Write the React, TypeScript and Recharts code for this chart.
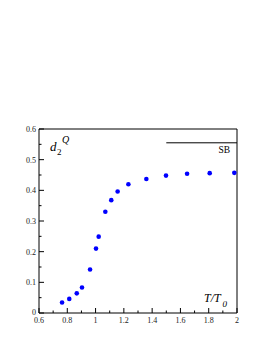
import { ScatterChart, Scatter, XAxis, YAxis, ReferenceLine } from 'recharts';

const tempRatio = [0.763, 0.814, 0.867, 0.904, 0.961, 1.003, 1.022, 1.069, 1.111, 1.156, 1.232, 1.359, 1.498, 1.647, 1.807, 1.981];
const d2Values = [0.034, 0.046, 0.064, 0.083, 0.142, 0.21, 0.249, 0.33, 0.368, 0.396, 0.42, 0.437, 0.448, 0.454, 0.456, 0.457];
const sbLimit = 0.555;
const sbStart = 1.5;

const xTicks = [0.6, 0.7, 0.8, 0.9, 1, 1.1, 1.2, 1.3, 1.4, 1.5, 1.6, 1.7, 1.8, 1.9, 2];
const xLabels = ['0.6', '0.8', '1', '1.2', '1.4', '1.6', '1.8', '2'];
const yTicks = [0, 0.05, 0.1, 0.15, 0.2, 0.25, 0.3, 0.35, 0.4, 0.45, 0.5, 0.55, 0.6];
const yLabels = ['0', '0.1', '0.2', '0.3', '0.4', '0.5', '0.6'];

const points = tempRatio.map((t, i) => ({ t, d: d2Values[i] }));

const FONT = '"Liberation Serif", "DejaVu Serif", serif';

const fmt = (v: number) => String(Math.round(v * 100) / 100);

function makeTick(side: 'bottom' | 'top' | 'left' | 'right', labels: string[]) {
  return (props: any) => {
    const { x, y, payload } = props;
    const label = fmt(payload.value);
    const major = labels.includes(label);
    const len = major ? 5 : 2.5;
    let line;
    if (side === 'bottom') line = <line x1={x} y1={y} x2={x} y2={y - len} stroke="#000" />;
    else if (side === 'top') line = <line x1={x} y1={y} x2={x} y2={y + len} stroke="#000" />;
    else if (side === 'left') line = <line x1={x} y1={y} x2={x + len} y2={y} stroke="#000" />;
    else line = <line x1={x} y1={y} x2={x - len} y2={y} stroke="#000" />;
    return (
      <g>
        {line}
        {major && side === 'bottom' && (
          <text x={x} y={y + 10} textAnchor="middle" fontSize={8} fontFamily={FONT} fill="#222">{label}</text>
        )}
        {major && side === 'left' && (
          <text x={x - 3} y={label === '0' ? y + 2 : y + 3} textAnchor="end" fontSize={8} fontFamily={FONT} fill="#222">{label}</text>
        )}
      </g>
    );
  };
}

const SbLabel = (props: any) => {
  const { viewBox } = props;
  return (
    <text x={viewBox.x + viewBox.width - 7} y={viewBox.y + 10} textAnchor="end" fontSize={9.5} fontFamily={FONT} fill="#000">SB</text>
  );
};

export default function App() {
  return (
    <div style={{ position: 'absolute', left: 0, top: 0, width: 273, height: 353, background: '#fff' }}>
      <ScatterChart width={273} height={353} margin={{ top: 128, right: 35, bottom: 0, left: 0 }}>
        <XAxis xAxisId="b" dataKey="t" type="number" domain={[0.6, 2]} ticks={xTicks} interval={0}
          height={40} tickSize={0} tickMargin={0} tickLine={false} stroke="#000" tick={makeTick('bottom', xLabels)} />
        <XAxis xAxisId="t" orientation="top" type="number" domain={[0.6, 2]} ticks={xTicks} interval={0}
          height={1} tickSize={0} tickMargin={0} tickLine={false} stroke="#000" tick={makeTick('top', xLabels)} />
        <YAxis yAxisId="l" dataKey="d" type="number" domain={[0, 0.6]} ticks={yTicks} interval={0}
          width={39} tickSize={0} tickMargin={0} tickLine={false} stroke="#000" tick={makeTick('left', yLabels)} />
        <YAxis yAxisId="r" orientation="right" type="number" domain={[0, 0.6]} ticks={yTicks} interval={0}
          width={1} tickSize={0} tickMargin={0} tickLine={false} stroke="#000" tick={makeTick('right', yLabels)} />
        <ReferenceLine xAxisId="b" yAxisId="l" segment={[{ x: sbStart, y: sbLimit }, { x: 2, y: sbLimit }]}
          stroke="#000" strokeWidth={1} label={<SbLabel />} />
        <Scatter xAxisId="b" yAxisId="l" data={points} isAnimationActive={false}
          shape={(p: any) => <circle cx={p.cx} cy={p.cy} r={2.3} fill="#0000ff" />} />
      </ScatterChart>
      <svg width={273} height={353} style={{ position: 'absolute', left: 0, top: 0, pointerEvents: 'none' }}>
        <text x={50} y={151} fontSize={13} fontStyle="italic" fontFamily={FONT}>d</text>
        <text x={57} y={155} fontSize={9} fontFamily={FONT}>2</text>
        <text x={62} y={143} fontSize={10} fontStyle="italic" fontFamily={FONT}>Q</text>
        <text x={204} y={302} fontSize={12} fontStyle="italic" fontFamily={FONT}>T/T</text>
        <text x={222.5} y={307} fontSize={9} fontStyle="italic" fontFamily={FONT}>0</text>
      </svg>
    </div>
  );
}
